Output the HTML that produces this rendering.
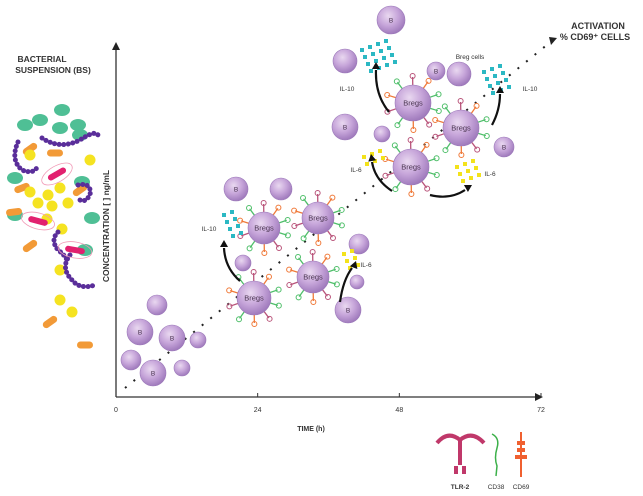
<!DOCTYPE html>
<html><head><meta charset="utf-8"><style>
html,body{margin:0;padding:0;background:#fff;}
svg{display:block;font-family:"Liberation Sans",sans-serif;}
</style></head><body>
<svg id="fig" width="643" height="496" viewBox="0 0 643 496" xmlns="http://www.w3.org/2000/svg">
<defs>
<radialGradient id="cellg" cx="0.4" cy="0.35" r="0.7">
<stop offset="0" stop-color="#e9d8f0"/><stop offset="0.5" stop-color="#c7a6da"/><stop offset="1" stop-color="#9a74b8"/>
</radialGradient>
</defs>
<g id="bact"></g>
<text x="42" y="62" font-size="8.5" font-weight="bold" fill="#333" text-anchor="middle">BACTERIAL</text>
<text x="53" y="73" font-size="8.5" font-weight="bold" fill="#333" text-anchor="middle">SUSPENSION (BS)</text>
<g id="axes"></g>
<g id="dots"></g>
<g id="cells"></g>
<g id="legend"></g>
</svg>
<script>
const timeTicks=[0,24,48,72];
const NS="http://www.w3.org/2000/svg";
const X0=116,X1=541,Y0=397,YT=42;
function xs(t){return X0+(X1-X0)*t/72;}
function mk(tag,attrs,parent,txt){const e=document.createElementNS(NS,tag);for(const k in attrs)e.setAttribute(k,attrs[k]);if(txt!=null)e.textContent=txt;parent.appendChild(e);return e;}
const axes=document.getElementById('axes');
let l=mk('line',{x1:X0,y1:Y0,x2:X1,y2:Y0,stroke:'#333','stroke-width':1.3},axes);

l=mk('line',{x1:X0,y1:Y0,x2:X0,y2:YT+6,stroke:'#333','stroke-width':1.3},axes);

let p=mk('polygon',{points:`${X0-4},${YT+8} ${X0+4},${YT+8} ${X0},${YT}`,fill:'#222'},axes);

p=mk('polygon',{points:`${X1-6},${Y0-4} ${X1-6},${Y0+4} ${X1+2},${Y0}`,fill:'#222'},axes);

timeTicks.forEach(t=>{
  const tk=mk('line',{x1:xs(t),y1:Y0,x2:xs(t),y2:Y0-4,stroke:'#333'},axes);
  
  const tx=mk('text',{x:xs(t),y:Y0+15,'font-size':7,fill:'#333','text-anchor':'middle'},axes,String(t));
  
});
let t=mk('text',{x:311,y:431,'font-size':7,'font-weight':'bold',fill:'#333','text-anchor':'middle'},axes,'TIME (h)');

t=mk('text',{x:0,y:0,'font-size':8.5,'font-weight':'bold',fill:'#333','text-anchor':'middle',transform:'translate(109,226) rotate(-90)'},axes,'CONCENTRATION [  ] ng/mL');

t=mk('text',{x:598,y:29,'font-size':9,'font-weight':'bold',fill:'#333','text-anchor':'middle'},axes,'ACTIVATION');

t=mk('text',{x:595,y:40,'font-size':9,'font-weight':'bold',fill:'#333','text-anchor':'middle'},axes,'% CD69⁺ CELLS');

// dotted line
const dots=document.getElementById('dots');
l=mk('line',{x1:125,y1:388,x2:548,y2:44,stroke:'#222','stroke-width':2,'stroke-dasharray':'2 9'},dots);

p=mk('polygon',{points:'549,37 557,38 551,45',fill:'#222'},dots);

// bacteria
const bact=document.getElementById('bact');
[[62,110],[40,120],[60,128],[78,125],[80,135],[25,125],[15,178],[82,182],[92,218],[85,250],[15,215]].forEach(([x,y])=>{const e=mk('ellipse',{cx:x,cy:y,rx:8,ry:6,fill:'#4fbf95'},bact);});
[[30,149],[55,153],[22,188],[14,212],[80,190],[30,246],[50,322],[85,345]].forEach(([x,y])=>{const e=mk('rect',{x:x-8,y:y-3.5,width:16,height:7,rx:3.5,fill:'#f29a37',transform:`rotate(${(x*7)%70-35} ${x} ${y})`},bact);});
[[30,155],[90,160],[30,192],[48,195],[60,188],[38,203],[52,206],[68,203],[47,219],[62,229],[60,270],[60,300],[72,312]].forEach(([x,y])=>{const e=mk('circle',{cx:x,cy:y,r:5.5,fill:'#f5e321'},bact);});
['M42,138 Q60,150 80,140 Q95,130 98,135','M18,142 Q10,160 22,170 Q35,175 38,165','M78,185 Q92,182 90,195 Q85,203 80,200','M58,232 Q50,240 58,250 Q65,255 68,262','M70,255 Q60,268 72,280 Q80,290 95,285'].forEach(d=>{const e=mk('path',{d:d,fill:'none',stroke:'#5a2e9a','stroke-width':5,'stroke-linecap':'round','stroke-dasharray':'0.1 4.5'},bact);});
[[57,174,-30],[38,221,15],[75,250,10]].forEach(([x,y,a])=>{
  const g=mk('g',{transform:`rotate(${a} ${x} ${y})`},bact);
  mk('ellipse',{cx:x,cy:y,rx:17,ry:8,fill:'none',stroke:'#f19ab7','stroke-width':0.8},g);
  mk('rect',{x:x-10,y:y-3,width:20,height:6,rx:3,fill:'#e2206f'},g);
});
// cells
const cg=document.getElementById('cells');
function cell(x,y,r,label,bregs){
  const g=mk('g',{},cg);
  
  if(bregs){
    for(let i=0;i<10;i++){const a=i*Math.PI/5+0.3;const c=i%3==0?'#4fbf6a':(i%3==1?'#b9547a':'#f07a3a');
      mk('line',{x1:x+Math.cos(a)*r,y1:y+Math.sin(a)*r,x2:x+Math.cos(a)*(r+8),y2:y+Math.sin(a)*(r+8),stroke:c,'stroke-width':1.3},g);
      mk('circle',{cx:x+Math.cos(a)*(r+9),cy:y+Math.sin(a)*(r+9),r:2.5,fill:'none',stroke:c,'stroke-width':1},g);}
  }
  mk('circle',{cx:x,cy:y,r:r,fill:'url(#cellg)',stroke:'#9b78b9','stroke-width':0.6},g);
  if(label)mk('text',{x:x,y:y+2.5,'font-size':bregs?7.5:6.5,fill:'#4a3550','text-anchor':'middle'},g,label);
}
[[157,305,10,''],[140,332,13,'B'],[172,338,13,'B'],[198,340,8,''],[131,360,10,''],[153,373,13,'B'],[182,368,8,''],
 [236,189,12,'B'],[281,189,11,''],[243,263,8,''],[359,244,10,''],[348,310,13,'B'],[357,282,7,''],
 [391,20,14,'B'],[345,61,12,''],[436,71,9,'B'],[459,74,12,''],[345,127,13,'B'],[382,134,8,''],[504,147,10,'B']
].forEach(c=>cell(c[0],c[1],c[2],c[3],false));
[[264,228,16],[318,218,16],[254,298,17],[313,277,16],[413,103,18],[461,128,18],[411,167,18]].forEach(c=>cell(c[0],c[1],c[2],'Bregs',true));
// cytokine dots
function dotsBlock(x,y,cols,rows,col,name){for(let i=0;i<rows;i++)for(let j=0;j<cols;j++){const d=mk('rect',{x:x+j*8+i*3,y:y+i*7-j*3,width:4,height:4,fill:col},cg);}}
dotsBlock(360,48,4,4,'#2bb8c3','il10-dot');dotsBlock(482,70,3,4,'#2bb8c3','il10-dot');dotsBlock(222,213,2,4,'#2bb8c3','il10-dot');
dotsBlock(362,155,3,2,'#f3e21b','il6-dot');dotsBlock(455,165,3,3,'#f3e21b','il6-dot');dotsBlock(342,252,2,3,'#f3e21b','il6-dot');
[['IL-10',347,91],['IL-10',530,91],['IL-6',356,172],['IL-6',490,176],['IL-10',209,231],['IL-6',366,267],['Breg cells',470,59]].forEach(([s,x,y])=>{const e=mk('text',{x:x,y:y,'font-size':6.5,fill:'#333','text-anchor':'middle'},cg,s);});
// curved arrows
[['M389,112 Q375,95 376,70','376,64'],['M492,125 Q500,110 500,94','500,88'],['M392,191 Q375,180 372,162','371,156'],['M430,195 Q450,200 465,190','470,186'],['M240,281 Q225,268 224,248','224,242'],['M340,302 Q343,280 352,268','355,263']].forEach(([d])=>{const e=mk('path',{d:d,fill:'none',stroke:'#111','stroke-width':2.2},cg);});
[[376,62,0],[500,86,0],[371,154,-10],[472,185,60],[224,240,0],[356,261,20]].forEach(([x,y,a])=>{const e=mk('polygon',{points:`${x},${y} ${x-4},${y+7} ${x+4},${y+7}`,fill:'#111',transform:`rotate(${a} ${x} ${y})`},cg);});
// legend
const lg=document.getElementById('legend');
let tl=mk('g',{},lg);
mk('path',{d:'M437,443 Q448,430 460,440 Q472,430 484,443',fill:'none',stroke:'#c0386a','stroke-width':4},tl);
mk('line',{x1:460,y1:440,x2:460,y2:465,stroke:'#c0386a','stroke-width':4},tl);
mk('rect',{x:454,y:466,width:4,height:8,fill:'#c0386a'},tl);mk('rect',{x:462,y:466,width:4,height:8,fill:'#c0386a'},tl);
let c38=mk('path',{d:'M492,434 Q500,438 497,448 Q494,458 497,466 L496,476',fill:'none',stroke:'#3cb04a','stroke-width':1.5},lg);

let c69=mk('g',{},lg);
mk('line',{x1:521,y1:432,x2:521,y2:477,stroke:'#f06030','stroke-width':2},c69);
mk('rect',{x:517,y:441,width:8,height:4,fill:'#f06030'},c69);mk('rect',{x:517,y:448,width:8,height:4,fill:'#f06030'},c69);mk('rect',{x:515,y:455,width:12,height:4,fill:'#f06030'},c69);
[['TLR-2',460,489],['CD38',496,489],['CD69',521,489]].forEach(([s,x,y])=>{const e=mk('text',{x:x,y:y,'font-size':6.5,fill:'#333','text-anchor':'middle','font-weight':s=='TLR-2'?'bold':'normal'},lg,s);});
</script>
</body></html>
